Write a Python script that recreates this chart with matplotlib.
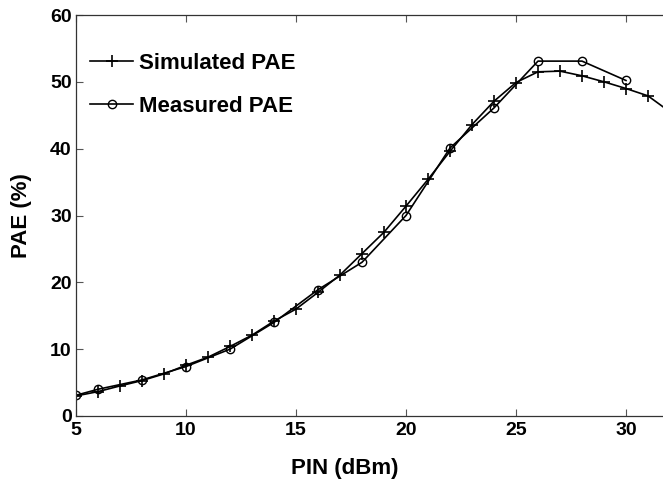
import matplotlib
matplotlib.use("Agg")
import matplotlib.pyplot as plt

# Data
sim_x = [5, 6, 7, 8, 9, 10, 11, 12, 13, 14, 15, 16, 17, 18, 19, 20, 21, 22, 23, 24, 25, 26, 27, 28, 29, 30, 31, 32]
sim_y = [3.0, 3.65, 4.5, 5.3, 6.3, 7.6, 8.8, 10.4, 12.1, 14.2, 16.0, 18.5, 21.1, 24.3, 27.5, 31.4, 35.4, 39.6, 43.6, 47.1, 49.9, 51.5, 51.6, 50.9, 50.0, 49.0, 47.9, 45.5]

meas_x = [5, 6, 8, 10, 12, 14, 16, 18, 20, 22, 24, 26, 28, 30]
meas_y = [3.1, 4.0, 5.4, 7.4, 10.0, 14.0, 18.9, 23.0, 30.0, 40.1, 46.1, 53.1, 53.1, 50.2]

x_ticks = [5, 10, 15, 20, 25, 30]
y_ticks = [0, 10, 20, 30, 40, 50, 60]

plt.rcParams['font.family'] = ['Liberation Sans', 'DejaVu Sans']
plt.rcParams['font.weight'] = 'bold'

fig = plt.figure(figsize=(6.63, 4.83), dpi=100)
ax = fig.add_axes([76/663, 67/483, (670-76)/663, (416-15)/483])

ax.plot(sim_x, sim_y, color='black', lw=1.2, marker='+', ms=8, mew=1.2,
        label='Simulated PAE')
ax.plot(meas_x, meas_y, color='black', lw=1.2, marker='o', ms=6, mew=1.0,
        mfc='none', label='Measured PAE')

ax.set_xlim(5, 32)
ax.set_ylim(0, 60)
ax.set_xticks(x_ticks)
ax.set_yticks(y_ticks)
ax.tick_params(direction='in', length=5, width=0.8, top=True, right=True,
               labelsize=14, color='#555555')
ax.tick_params(axis='x', pad=4)
ax.tick_params(axis='y', pad=3)
for lab in ax.get_xticklabels() + ax.get_yticklabels():
    lab.set_fontweight('bold')

for s in ax.spines.values():
    s.set_linewidth(0.9)
    s.set_color('#333333')

ax.set_xlabel('PIN (dBm)', fontsize=16, fontweight='bold')
ax.set_ylabel('PAE (%)', fontsize=16, fontweight='bold')
ax.xaxis.set_label_coords(0.453, -0.105)
ax.yaxis.set_label_coords(-0.074, 0.5)

leg = ax.legend(loc='upper left', bbox_to_anchor=(0.0236, 0.905), frameon=False,
                prop={'size': 16, 'weight': 'bold'}, handlelength=1.95,
                handletextpad=0.25, labelspacing=0.99, borderaxespad=0.0,
                borderpad=0.0)

fig.savefig('out.png', dpi=100)
